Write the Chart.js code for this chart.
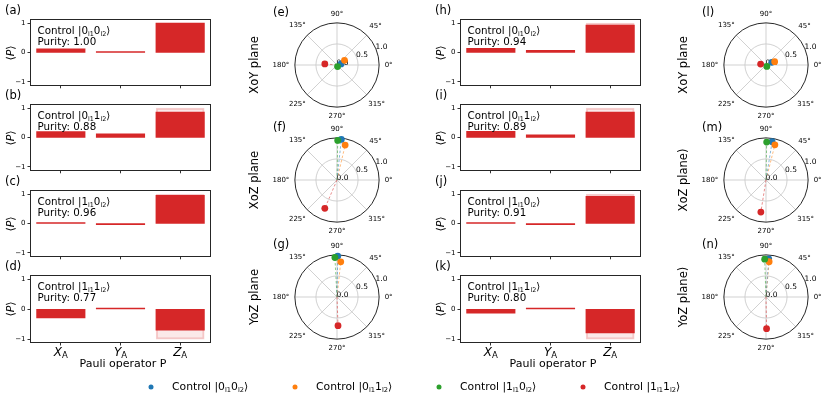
<!DOCTYPE html>
<html>
<head>
<meta charset="utf-8">
<title>Pauli expectation values</title>
<script src="https://cdn.jsdelivr.net/npm/chart.js@4.4.1/dist/chart.umd.min.js"></script>
<style>
  html, body { margin: 0; padding: 0; background: #fff; overflow: hidden; }
  #fig { position: relative; width: 830px; height: 403px; overflow: hidden; font-family: "DejaVu Sans", sans-serif; color: #000; }
  #fig canvas { position: absolute; }
  .t { position: absolute; white-space: nowrap; line-height: 1; }
  .c { transform: translate(-50%, -50%); }
  .l { transform: translate(0, -50%); }
  .r90 { transform: translate(-50%, -50%) rotate(-90deg); }
  sub { font-size: 0.62em; vertical-align: -0.3em; line-height: 0; }
  .dot { position: absolute; width: 5px; height: 5px; border-radius: 50%; transform: translate(-50%, -50%); }
</style>
</head>
<body>
<div id="fig"></div>
<script>
const pauliOps = ["X", "Y", "Z"];
const controlKets = [["0", "0"], ["0", "1"], ["1", "0"], ["1", "1"]];
const stateColors = ["#1f77b4", "#ff7f0e", "#2ca02c", "#d62728"];

// left column, panels (a)-(d)
const purityLeft = [1.00, 0.88, 0.96, 0.77];
const expectLeft = [
    [0.11, 0.02, 0.99],
    [0.19, 0.11, 0.85],
    [0.02, -0.03, 0.95],
    [-0.28, 0.02, -0.69]
];

// right column, panels (h)-(k)
const purityRight = [0.94, 0.89, 0.91, 0.80];
const expectRight = [
    [0.13, 0.06, 0.92],
    [0.20, 0.08, 0.85],
    [0.02, -0.03, 0.91],
    [-0.12, 0.02, -0.78]
];

// ideal values, drawn as the light bars
const idealValues = [
    [0, 0, 1],
    [0, 0, 1],
    [0, 0, 1],
    [0, 0, -1]
];

// polar panels: angle in degrees and radius, one per control state
const thetaLeftXoY = [15, 32, 290, 175];
const rLeftXoY = [0.10, 0.21, 0.04, 0.29];
const thetaLeftXoZ = [84, 77, 89, 247];
const rLeftXoZ = [0.98, 0.86, 0.95, 0.74];
const thetaLeftYoZ = [89, 84, 93, 272];
const rLeftYoZ = [0.98, 0.85, 0.95, 0.69];

const thetaRightXoY = [25, 21, 300, 170];
const rRightXoY = [0.15, 0.22, 0.04, 0.13];
const thetaRightXoZ = [81, 76, 89, 261];
const rRightXoZ = [0.93, 0.87, 0.91, 0.78];
const thetaRightYoZ = [86, 85, 92, 271];
const rRightYoZ = [0.92, 0.85, 0.91, 0.76];

const barYTicks = [-1, 0, 1];
const angleTicks = [0, 45, 90, 135, 180, 225, 270, 315];
const radialTicks = [0.0, 0.5, 1.0];

// layout
const barLefts = [31, 461];
const barTops = [20, 105, 191, 276];
const barW = 179, barH = 66;
const polarXs = [337, 766];
const polarYs = [65, 180, 297];
const polarR = 44.5;
const FONT = '"DejaVu Sans"';

const fig = document.getElementById("fig");

function addText(html, x, y, size, cls) {
    const d = document.createElement("div");
    d.className = "t " + cls;
    d.innerHTML = html;
    d.style.left = x + "px";
    d.style.top = y + "px";
    d.style.fontSize = size + "px";
    fig.appendChild(d);
    return d;
}

function ket(a, b) {
    return "|" + a + "<sub>l1</sub>" + b + "<sub>l2</sub>\u27E9";
}

const boxPlugin = {
    id: "box",
    afterDatasetsDraw(chart) {
        const a = chart.chartArea;
        const ctx = chart.ctx;
        ctx.save();
        ctx.strokeStyle = "#262626";
        ctx.lineWidth = 1;
        ctx.strokeRect(Math.round(a.left) - 0.5, Math.round(a.top) - 0.5,
            Math.round(a.right - a.left) + 1, Math.round(a.bottom - a.top) + 1);
        ctx.restore();
    }
};

function pauliLabels(show) {
    return {
        id: "pauliLabels",
        afterDraw(chart) {
            if (!show) return;
            const ctx = chart.ctx;
            const sx = chart.scales.x;
            const y = chart.chartArea.bottom + 11;
            ctx.save();
            ctx.fillStyle = "#000";
            ctx.textBaseline = "middle";
            ctx.textAlign = "left";
            pauliOps.forEach((p, i) => {
                const px = sx.getPixelForValue(i);
                ctx.font = "italic 12px " + FONT;
                const w1 = ctx.measureText(p).width;
                ctx.font = "8.5px " + FONT;
                const w2 = ctx.measureText("A").width;
                const x0 = px - (w1 + w2) / 2;
                ctx.font = "italic 12px " + FONT;
                ctx.fillText(p, x0, y);
                ctx.font = "8.5px " + FONT;
                ctx.fillText("A", x0 + w1, y + 3);
            });
            ctx.restore();
        }
    };
}

function makeBarChart(left, top, values, ideal, showX) {
    const axisH = showX ? 30 : 5;
    const padTop = 6;
    const canvas = document.createElement("canvas");
    canvas.width = 31 + barW + 4;
    canvas.height = padTop + barH + axisH;
    canvas.style.left = (left - 31) + "px";
    canvas.style.top = (top - padTop) + "px";
    fig.appendChild(canvas);

    new Chart(canvas, {
        type: "bar",
        data: {
            labels: pauliOps,
            datasets: [{
                data: values,
                backgroundColor: "#d62728",
                borderWidth: 0,
                inflateAmount: 0.7,
                grouped: false,
                categoryPercentage: 0.8,
                barPercentage: 1
            }, {
                data: ideal,
                backgroundColor: "rgba(214,39,40,0.1)",
                borderColor: "rgba(214,39,40,0.22)",
                borderWidth: 1,
                inflateAmount: 0.5,
                grouped: false,
                categoryPercentage: 0.8,
                barPercentage: 1
            }]
        },
        options: {
            responsive: false,
            animation: false,
            devicePixelRatio: 1,
            layout: { padding: { top: padTop, right: 4, left: 0, bottom: 0 } },
            plugins: { legend: { display: false }, tooltip: { enabled: false } },
            scales: {
                x: {
                    grid: { offset: false, drawOnChartArea: false, tickLength: 3.5, tickColor: "#333" },
                    border: { display: false },
                    ticks: { display: false },
                    afterFit: s => { s.height = axisH; }
                },
                y: {
                    min: -1.1,
                    max: 1.1,
                    afterBuildTicks: s => { s.ticks = barYTicks.map(v => ({ value: v })); },
                    ticks: {
                        font: { size: 7, family: "DejaVu Sans" },
                        color: "#000",
                        padding: 2,
                        callback: v => v < 0 ? "\u2212" + Math.abs(v) : String(v)
                    },
                    grid: { drawOnChartArea: false, tickLength: 3.5, tickColor: "#333" },
                    border: { display: false },
                    afterFit: s => { s.width = 31; }
                }
            }
        },
        plugins: [boxPlugin, pauliLabels(showX)]
    });
}

const polarGridPlugin = {
    id: "polarGrid",
    beforeDatasetsDraw(chart) {
        const ctx = chart.ctx;
        const sx = chart.scales.x, sy = chart.scales.y;
        const cx = sx.getPixelForValue(0), cy = sy.getPixelForValue(0);
        const R = sx.getPixelForValue(1) - cx;
        ctx.save();
        ctx.lineWidth = 0.9;
        ctx.strokeStyle = "#cccccc";
        angleTicks.forEach(a => {
            const t = a * Math.PI / 180;
            ctx.beginPath();
            ctx.moveTo(cx, cy);
            ctx.lineTo(cx + R * Math.cos(t), cy - R * Math.sin(t));
            ctx.stroke();
        });
        radialTicks.forEach(r => {
            if (r === 0) return;
            ctx.beginPath();
            ctx.arc(cx, cy, r * R, 0, 2 * Math.PI);
            ctx.strokeStyle = r === 1 ? "#111" : "#cccccc";
            ctx.stroke();
        });

        ctx.fillStyle = "#000";
        ctx.font = "7px " + FONT;
        ctx.textAlign = "center";
        ctx.textBaseline = "middle";
        angleTicks.forEach(a => {
            const t = a * Math.PI / 180, c = Math.cos(t), s = Math.sin(t);
            const label = a + "\u00B0";
            const w = ctx.measureText(label).width;
            const d = R + 5.5 + Math.abs(c) * w / 2 + Math.abs(s) * 3.5;
            ctx.fillText(label, cx + d * c, cy - d * s);
        });
        ctx.font = "7.5px " + FONT;
        radialTicks.forEach(r => {
            const d = r * R + 6, t = 22.5 * Math.PI / 180;
            ctx.fillText(r.toFixed(1), cx + d * Math.cos(t), cy - d * Math.sin(t));
        });
        ctx.restore();
    }
};

function makePolarChart(cx, cy, thetas, radii) {
    const W = 150, H = 124;
    const canvas = document.createElement("canvas");
    canvas.width = W;
    canvas.height = H;
    canvas.style.left = (cx - W / 2) + "px";
    canvas.style.top = (cy - H / 2) + "px";
    fig.appendChild(canvas);

    const datasets = [];
    thetas.forEach((th, i) => {
        const t = th * Math.PI / 180;
        const pt = { x: radii[i] * Math.cos(t), y: radii[i] * Math.sin(t) };
        datasets.push({
            data: [{ x: 0, y: 0 }, pt],
            showLine: true,
            borderColor: stateColors[i] + "88",
            borderWidth: 1,
            borderDash: [2.5, 2],
            pointRadius: 0,
            order: 10 + i
        });
        datasets.push({
            data: [pt],
            pointRadius: 3.4,
            backgroundColor: stateColors[i],
            borderColor: stateColors[i],
            pointBorderWidth: 0,
            order: 4 - i
        });
    });

    new Chart(canvas, {
        type: "scatter",
        data: { datasets: datasets },
        options: {
            responsive: false,
            animation: false,
            devicePixelRatio: 1,
            layout: { padding: 0 },
            plugins: { legend: { display: false }, tooltip: { enabled: false } },
            scales: {
                x: { type: "linear", display: false, min: -W / 2 / polarR, max: W / 2 / polarR },
                y: { type: "linear", display: false, min: -H / 2 / polarR, max: H / 2 / polarR }
            }
        },
        plugins: [polarGridPlugin]
    });
}

// bar panels
const barLetters = [["a", "b", "c", "d"], ["h", "i", "j", "k"]];
[expectLeft, expectRight].forEach((expect, col) => {
    const purity = col === 0 ? purityLeft : purityRight;
    const left = barLefts[col];
    barTops.forEach((top, i) => {
        makeBarChart(left, top, expect[i], idealValues[i], i === 3);
        addText("(" + barLetters[col][i] + ")", left - 26, top - 9.5, 11.5, "l");
        addText("\u27E8<i>P</i>\u27E9", left - 21, top + 33, 11, "r90");
        addText("Control " + ket(controlKets[i][0], controlKets[i][1]), left + 6.5, top + 9.5, 10.3, "l");
        addText("Purity: " + purity[i].toFixed(2), left + 6.5, top + 20.5, 10.3, "l");
    });
    addText("Pauli operator P", left + 92, 363, 11, "c");
});

// polar panels
const polarThetas = [[thetaLeftXoY, thetaLeftXoZ, thetaLeftYoZ], [thetaRightXoY, thetaRightXoZ, thetaRightYoZ]];
const polarRadii = [[rLeftXoY, rLeftXoZ, rLeftYoZ], [rRightXoY, rRightXoZ, rRightYoZ]];
const polarLetters = [["e", "f", "g"], ["l", "m", "n"]];
const planeNames = [["XoY plane", "XoZ plane", "YoZ plane"], ["XoY plane", "XoZ plane)", "YoZ plane)"]];
polarXs.forEach((cx, col) => {
    polarYs.forEach((cy, j) => {
        makePolarChart(cx, cy, polarThetas[col][j], polarRadii[col][j]);
        addText("(" + polarLetters[col][j] + ")", cx - 64, cy - 52, 11.5, "l");
        addText(planeNames[col][j], cx - 82, cy, 11.5, "r90");
    });
});

// legend
const legendXs = [151, 295, 439, 583];
controlKets.forEach((k, i) => {
    const d = document.createElement("div");
    d.className = "dot";
    d.style.left = legendXs[i] + "px";
    d.style.top = "386.5px";
    d.style.background = stateColors[i];
    fig.appendChild(d);
    addText("Control " + ket(k[0], k[1]), legendXs[i] + 21, 386.5, 10.8, "l");
});
</script>
</body>
</html>
